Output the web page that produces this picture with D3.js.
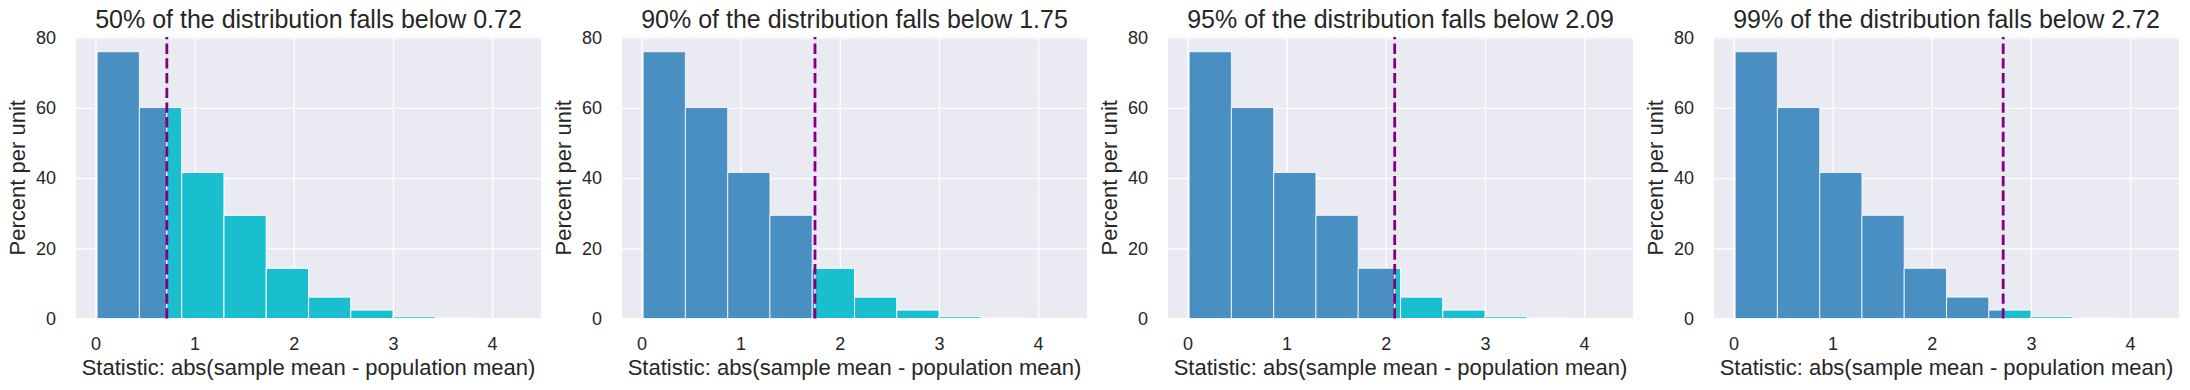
<!DOCTYPE html>
<html>
<head>
<meta charset="utf-8">
<script src="https://cdn.jsdelivr.net/npm/d3@7"></script>
<style>
  body { margin: 0; background: #fff; }
  text { font-family: "Liberation Sans", Arial, sans-serif; fill: #262626; }
</style>
</head>
<body>
<figure id="hist" style="margin:0"></figure>
<script>
// histogram bins (shared by all 4 panels)
const binEdges = [0.017, 0.443, 0.870, 1.296, 1.722, 2.149, 2.575, 3.001, 3.427, 3.854, 4.280];
const percentPerUnit = [76.0, 60.1, 41.6, 29.4, 14.3, 6.1, 2.4, 0.5, 0.1, 0.02];

// one panel per percentile
const levels = [50, 90, 95, 99];
const cutoffs = [0.72, 1.75, 2.09, 2.72];

const xTicks = [0, 1, 2, 3, 4];
const yTicks = [0, 20, 40, 60, 80];
const xLabel = "Statistic: abs(sample mean - population mean)";
const yLabel = "Percent per unit";

const W = 2190, H = 390;
const panelLeft = [76, 622, 1168, 1714];
const pw = 465;
const plotTop = 37, plotBottom = 318.5;
const ph = plotBottom - plotTop;

const svg = d3.select('figure#hist')
  .append('svg')
  .attr('width', W)
  .attr('height', H);

// xlim = data range + 5% margins (matplotlib style)
const lo = binEdges[0], hi = binEdges[binEdges.length - 1];
const pad = (hi - lo) * 0.05;

const x = d3.scaleLinear().domain([lo - pad, hi + pad]).range([0, pw]);
const y = d3.scaleLinear().domain([0, 80.2]).range([ph, 0]);

const bins = percentPerUnit.map((v, i) => ({ x0: binEdges[i], x1: binEdges[i + 1], v: v }));

levels.forEach((lvl, k) => drawPanel(lvl, cutoffs[k], panelLeft[k]));

function drawPanel(lvl, cut, left) {
  const g = svg.append("g").attr("transform", "translate(" + left + "," + plotTop + ")");

  g.append("rect")
    .attr("width", pw)
    .attr("height", ph)
    .attr("fill", "#eaeaf2");

  // grid
  g.append("g")
    .attr("transform", "translate(0," + ph + ")")
    .call(d3.axisBottom(x).tickValues(xTicks).tickSize(-ph).tickFormat(""))
    .call(s => s.select(".domain").remove())
    .selectAll("line").attr("stroke", "#fff").attr("stroke-width", 1.3);
  g.append("g")
    .call(d3.axisLeft(y).tickValues(yTicks).tickSize(-pw).tickFormat(""))
    .call(s => s.select(".domain").remove())
    .selectAll("line").attr("stroke", "#fff").attr("stroke-width", 1.3);

  // below the cutoff -> blue
  g.selectAll(".below")
    .data(bins.filter(b => b.x0 < cut))
    .enter()
    .append("rect")
    .attr("x", d => x(d.x0))
    .attr("y", d => y(d.v))
    .attr("width", d => x(Math.min(d.x1, cut)) - x(d.x0))
    .attr("height", d => ph - y(d.v))
    .attr("fill", "#4a8fc2")
    .attr("stroke", "#fff")
    .attr("stroke-opacity", 0.8)
    .attr("stroke-width", 1);

  // above the cutoff -> cyan
  g.selectAll(".above")
    .data(bins.filter(b => b.x1 > cut))
    .enter()
    .append("rect")
    .attr("x", d => x(Math.max(d.x0, cut)))
    .attr("y", d => y(d.v))
    .attr("width", d => x(d.x1) - x(Math.max(d.x0, cut)))
    .attr("height", d => ph - y(d.v))
    .attr("fill", "#1abfcf")
    .attr("stroke", "#fff")
    .attr("stroke-width", 1);

  // cutoff line, dashes start from the bottom
  g.append("line")
    .attr("x1", x(cut)).attr("x2", x(cut))
    .attr("y1", ph).attr("y2", 0)
    .attr("stroke", "purple")
    .attr("stroke-width", 2.8)
    .attr("stroke-dasharray", "10.3,4.4");

  // tick labels
  g.append("g")
    .attr("transform", "translate(0," + ph + ")")
    .call(d3.axisBottom(x).tickValues(xTicks).tickSize(0).tickPadding(18.5).tickFormat(d3.format("d")))
    .call(s => s.select(".domain").remove())
    .selectAll("text").attr("font-size", 18).attr("fill", "#262626")
    .style("font-family", '"Liberation Sans", Arial, sans-serif');
  g.append("g")
    .call(d3.axisLeft(y).tickValues(yTicks).tickSize(0).tickPadding(20).tickFormat(d3.format("d")))
    .call(s => s.select(".domain").remove())
    .selectAll("text").attr("font-size", 18).attr("fill", "#262626")
    .style("font-family", '"Liberation Sans", Arial, sans-serif');

  // title + labels
  g.append("text")
    .attr("x", pw / 2).attr("y", 28 - plotTop)
    .attr("text-anchor", "middle")
    .attr("font-size", 25)
    .text(lvl + "% of the distribution falls below " + cut.toFixed(2));
  g.append("text")
    .attr("x", pw / 2).attr("y", 375 - plotTop)
    .attr("text-anchor", "middle")
    .attr("font-size", 22)
    .text(xLabel);
  g.append("text")
    .attr("transform", "translate(-51," + (ph / 2) + ")rotate(-90)")
    .attr("text-anchor", "middle")
    .attr("font-size", 22)
    .text(yLabel);
}
</script>
</body>
</html>
